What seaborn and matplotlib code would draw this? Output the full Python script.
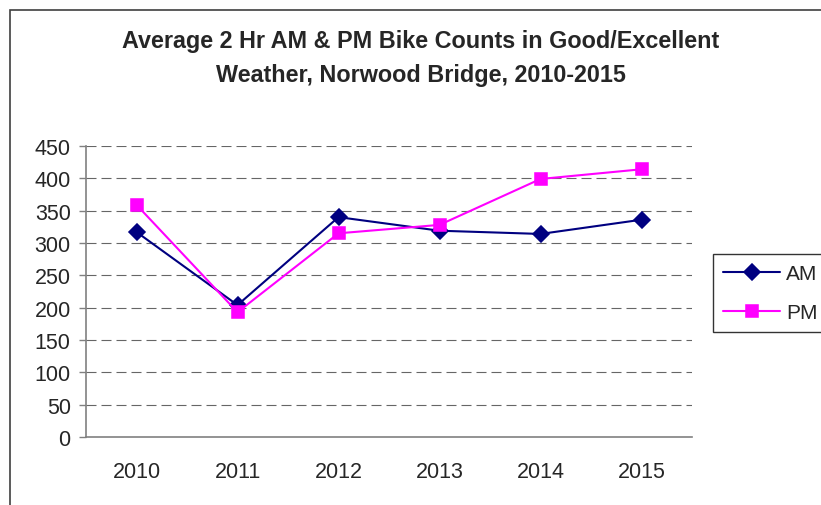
import matplotlib
matplotlib.use("Agg")
import matplotlib.pyplot as plt
import seaborn as sns
import pandas as pd
from matplotlib.patches import Rectangle

years = ["2010", "2011", "2012", "2013", "2014", "2015"]
am_counts = [317, 204, 340, 319, 314, 336]
pm_counts = [359, 193, 315, 328, 399, 414]
series_names = ["AM", "PM"]
y_ticks = [0, 50, 100, 150, 200, 250, 300, 350, 400, 450]
title = "Average 2 Hr AM & PM Bike Counts in Good/Excellent\nWeather, Norwood Bridge, 2010-2015"

df = pd.DataFrame({
    "year": years * 2,
    "count": am_counts + pm_counts,
    "period": [series_names[0]] * len(years) + [series_names[1]] * len(years),
})

sns.set_theme(style="white")
plt.rcParams["font.family"] = ["Liberation Sans", "DejaVu Sans"]

W, H = 821, 506
fig = plt.figure(figsize=(W / 100, H / 100), dpi=100)
ax = fig.add_axes([86 / W, 1 - 438 / H, (692 - 86) / W, (438 - 147) / H])

sns.pointplot(data=df, x="year", y="count", hue="period", order=years,
              hue_order=series_names, palette=["#000080", "#FF00FF"],
              markers=["D", "s"], linestyles=["-", "-"], errorbar=None,
              markersize=8, linewidth=1.5, ax=ax)

ax.set_xlim(-0.5, len(years) - 0.5)
ax.set_ylim(0, 450)
ax.set_yticks(y_ticks)
ax.set_yticklabels([str(v) for v in y_ticks], fontsize=15.5)
ax.set_xticks([i - 0.5 for i in range(len(years) + 1)])
ax.set_xticklabels([""] * (len(years) + 1))
ax.set_xticks(range(len(years)), minor=True)
ax.set_xticklabels(years, minor=True, fontsize=15.5)
ax.tick_params(axis="x", which="major", direction="out", length=5, width=1, color="#808080")
ax.tick_params(axis="x", which="minor", length=0, pad=17.5)
ax.tick_params(axis="y", direction="out", length=5, width=1, color="#808080", pad=6,
               left=True)
ax.set_xlabel("")
ax.set_ylabel("")

for v in y_ticks[1:]:
    ax.axhline(v, color="#666666", lw=0.8, linestyle=(0, (9, 4.5)), zorder=0)

for s in ["top", "right"]:
    ax.spines[s].set_visible(False)
for s in ["left", "bottom"]:
    ax.spines[s].set_color("#808080")
    ax.spines[s].set_linewidth(1.2)

sns.move_legend(ax, loc="upper left", bbox_to_anchor=(713 / W, 1 - 255 / H),
                bbox_transform=fig.transFigure, title=None, frameon=True,
                fontsize=15, handlelength=2.7, handletextpad=0.3,
                labelspacing=0.93, borderpad=0.5, borderaxespad=0)
leg = ax.get_legend()
leg.get_frame().set_edgecolor("black")
leg.get_frame().set_linewidth(1.0)
leg.get_frame().set_boxstyle("square", pad=0)
for h in leg.legend_handles:
    h.set_markersize(8)
    h.set_linewidth(1.5)

fig.text(421 / W, 1 - 58.5 / H, title, ha="center", va="center",
         fontsize=16.8, fontweight="bold", linespacing=1.6)

fig.patches.append(Rectangle((10 / W, -0.1), 1.2, 1.1 - 11 / H,
                             transform=fig.transFigure, fill=False,
                             edgecolor="#404040", linewidth=1.2))

fig.savefig("out.png", dpi=100)
